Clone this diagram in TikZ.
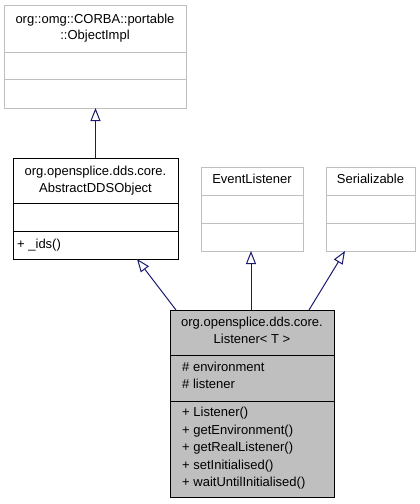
\documentclass[tikz,border=0pt]{standalone}
\usepackage{fontspec}
\setmainfont{Liberation Sans}
\usetikzlibrary{arrows.meta}

\definecolor{extgray}{HTML}{BFBFBF}
\definecolor{edgeblue}{HTML}{191970}

\tikzset{
  classbox/.style={rectangle, draw=black, line width=1pt, fill=white, inner sep=0pt},
  extbox/.style={classbox, draw=extgray},
  focusbox/.style={classbox, fill=extgray},
  divider/.style={line width=1pt, draw=black},
  extdivider/.style={line width=1pt, draw=extgray},
  lbl/.style={font=\fontsize{13}{15}\selectfont, inner sep=0pt, anchor=mid},
  lbll/.style={lbl, anchor=mid west},
  inherit/.style={draw=edgeblue, line width=1pt,
    -{Triangle[length=13pt, width=10pt, fill=white, line width=1pt]}},
}

\begin{document}
\begin{tikzpicture}[x=1pt, y=-1pt]
\useasboundingbox (0,0) rectangle (420,504);

% ---- org::omg::CORBA::portable::ObjectImpl
\node[extbox, minimum width=182pt, minimum height=103pt] (objimpl) at (95,56.5) {};
\draw[extdivider] (4,52) -- (186,52);
\draw[extdivider] (4,79) -- (186,79);
\node[lbl] (objimplA) at (95,20.5) {org::omg::CORBA::portable};
\node[lbl] (objimplB) at (95,37) {::ObjectImpl};

% ---- org.opensplice.dds.core.AbstractDDSObject
\node[classbox, minimum width=165pt, minimum height=101pt] (abstract) at (95.5,208.5) {};
\draw[divider] (13,203) -- (178,203);
\draw[divider] (13,231) -- (178,231);
\node[lbl] (abstractA) at (95.5,172.5) {org.opensplice.dds.core.};
\node[lbl] (abstractB) at (95.5,189.5) {AbstractDDSObject};
\node[lbll] (abstractM) at (17,245.5) {+ \_ids()};

% ---- EventListener
\node[extbox, minimum width=102pt, minimum height=84pt] (evlist) at (252,209) {};
\draw[extdivider] (201,195) -- (303,195);
\draw[extdivider] (201,223) -- (303,223);
\node[lbl] (evlistA) at (252,181) {EventListener};

% ---- Serializable
\node[extbox, minimum width=89pt, minimum height=84pt] (serial) at (370.5,209) {};
\draw[extdivider] (326,195) -- (415,195);
\draw[extdivider] (326,223) -- (415,223);
\node[lbl] (serialA) at (370.5,181) {Serializable};

% ---- org.opensplice.dds.core.Listener< T >
\node[focusbox, minimum width=164pt, minimum height=187pt] (listener) at (252,403.5) {};
\draw[divider] (170,355) -- (334,355);
\draw[divider] (170,401) -- (334,401);
\node[lbl] (listenerA) at (252,324) {org.opensplice.dds.core.};
\node[lbl] (listenerB) at (252,341) {Listener< T >};
\node[lbll] (attr1) at (182,368.5) {\# environment};
\node[lbll] (attr2) at (182,386) {\# listener};
\node[lbll] (meth1) at (182,414) {+ Listener()};
\node[lbll] (meth2) at (182,431.5) {+ getEnvironment()};
\node[lbll] (meth3) at (182,449) {+ getRealListener()};
\node[lbll] (meth4) at (182,466.5) {+ setInitialised()};
\node[lbll] (meth5) at (182,484) {+ waitUntilInitialised()};

% ---- attachment points of the generalisation edges
\coordinate (absOut) at (95.5,158);
\coordinate (objIn) at (95.5,108);
\coordinate (lisOutA) at (176,310);
\coordinate (absIn) at (137,259);
\coordinate (lisOutB) at (251,310);
\coordinate (evIn) at (251,251);
\coordinate (lisOutC) at (309,310);
\coordinate (serIn) at (345,251);

\draw[inherit] (absOut) -- (objIn);
\draw[inherit] (lisOutA) -- (absIn);
\draw[inherit] (lisOutB) -- (evIn);
\draw[inherit] (lisOutC) -- (serIn);
\end{tikzpicture}
\end{document}
